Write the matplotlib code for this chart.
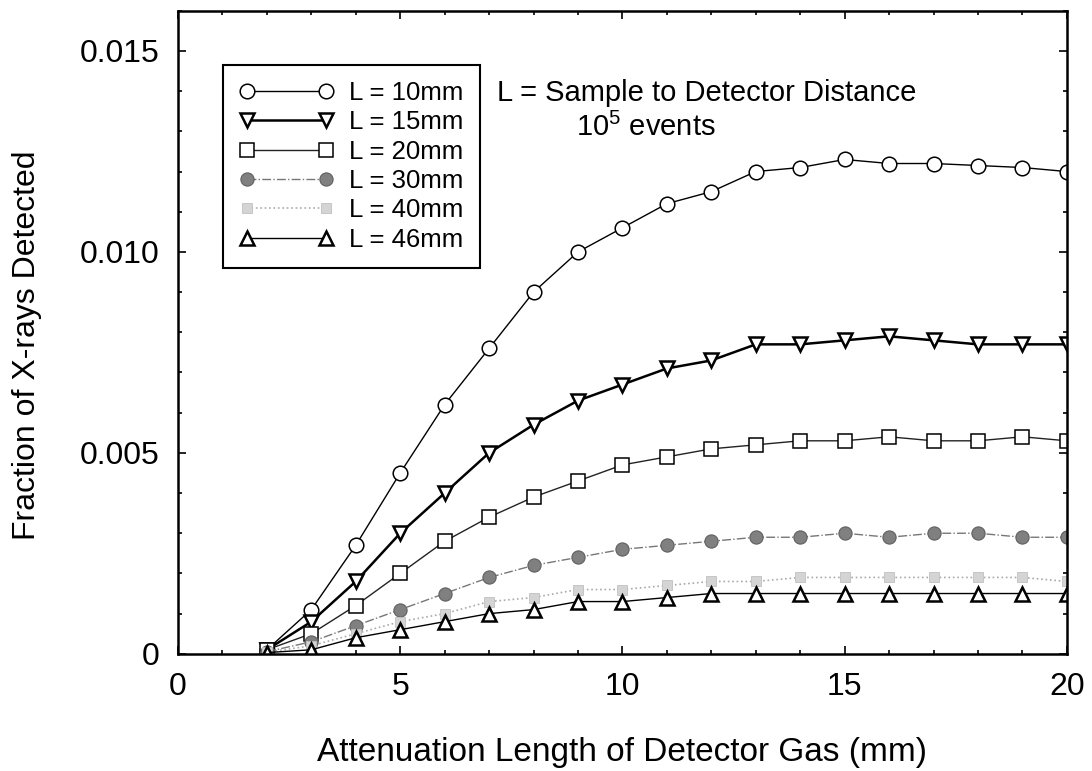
import matplotlib
matplotlib.use("Agg")
import matplotlib.pyplot as plt
from matplotlib.ticker import MultipleLocator, FixedFormatter, FixedLocator

plt.rcParams["font.family"] = ["Liberation Sans", "DejaVu Sans"]

# attenuation length (mm)
x = list(range(2, 21))

# fraction of x-rays detected, one list per sample-detector distance
l10 = [0.0001, 0.0011, 0.0027, 0.0045, 0.0062, 0.0076, 0.0090, 0.0100, 0.0106, 0.0112,
       0.0115, 0.0120, 0.0121, 0.0123, 0.0122, 0.0122, 0.01215, 0.0121, 0.0120]
l15 = [0.0001, 0.0008, 0.0018, 0.0030, 0.0040, 0.0050, 0.0057, 0.0063, 0.0067, 0.0071,
       0.0073, 0.0077, 0.0077, 0.0078, 0.0079, 0.0078, 0.0077, 0.0077, 0.0077]
l20 = [0.0001, 0.0005, 0.0012, 0.0020, 0.0028, 0.0034, 0.0039, 0.0043, 0.0047, 0.0049,
       0.0051, 0.0052, 0.0053, 0.0053, 0.0054, 0.0053, 0.0053, 0.0054, 0.0053]
l30 = [0.00005, 0.0003, 0.0007, 0.0011, 0.0015, 0.0019, 0.0022, 0.0024, 0.0026, 0.0027,
       0.0028, 0.0029, 0.0029, 0.0030, 0.0029, 0.0030, 0.0030, 0.0029, 0.0029]
l40 = [0.00004, 0.0002, 0.0005, 0.0008, 0.0010, 0.0013, 0.0014, 0.0016, 0.0016, 0.0017,
       0.0018, 0.0018, 0.0019, 0.0019, 0.0019, 0.0019, 0.0019, 0.0019, 0.0018]
l46 = [0.00003, 0.0001, 0.0004, 0.0006, 0.0008, 0.0010, 0.0011, 0.0013, 0.0013, 0.0014,
       0.0015, 0.0015, 0.0015, 0.0015, 0.0015, 0.0015, 0.0015, 0.0015, 0.0015]

labels = ["L = 10mm", "L = 15mm", "L = 20mm", "L = 30mm", "L = 40mm", "L = 46mm"]

fig = plt.figure(figsize=(10.92, 7.71), dpi=100)
ax = fig.add_axes([0.163, 0.152, 0.814, 0.834])

ax.plot(x, l10, "-", color="black", lw=1.0, marker="o", ms=10.5, mfc="white", mec="black", mew=1.1, label=labels[0])
ax.plot(x, l15, "-", color="black", lw=1.8, marker="v", ms=10.5, mfc="white", mec="black", mew=1.8, label=labels[1])
ax.plot(x, l20, "-", color="#222222", lw=1.0, marker="s", ms=10.5, mfc="white", mec="black", mew=1.1, label=labels[2])
ax.plot(x, l30, "-.", color="#777777", lw=1.0, marker="o", ms=9.5, mfc="#808080", mec="#606060", mew=0.8, label=labels[3])
ax.plot(x, l40, ":", color="#aaaaaa", lw=1.2, marker="s", ms=7.5, mfc="#d4d4d4", mec="#c0c0c0", mew=0.6, label=labels[4])
ax.plot(x, l46, "-", color="black", lw=1.0, marker="^", ms=10.5, mfc="white", mec="black", mew=1.8, label=labels[5])

ax.set_xlim(0, 20)
ax.set_ylim(0, 0.016)
ax.xaxis.set_major_locator(MultipleLocator(5))
ax.xaxis.set_minor_locator(MultipleLocator(1))
ax.yaxis.set_major_locator(FixedLocator([0, 0.005, 0.010, 0.015]))
ax.yaxis.set_major_formatter(FixedFormatter(["0", "0.005", "0.010", "0.015"]))
ax.yaxis.set_minor_locator(MultipleLocator(0.001))
ax.tick_params(which="both", direction="in", top=True, right=True, labelsize=23, width=1.2)
ax.tick_params(which="major", length=6, pad=13)
ax.tick_params(which="minor", length=3)
for s in ax.spines.values():
    s.set_linewidth(1.8)

ax.set_xlabel("Attenuation Length of Detector Gas (mm)", fontsize=24, labelpad=25)
ax.set_ylabel("Fraction of X-rays Detected", fontsize=23)
ax.yaxis.set_label_coords(-0.153, 0.48)

leg = ax.legend(loc="upper left", bbox_to_anchor=(0.0506, 0.916), borderaxespad=0,
                numpoints=2, handlelength=3.7, fontsize=18.5, labelspacing=0.21,
                fancybox=False, framealpha=1, edgecolor="black", borderpad=0.62,
                handletextpad=0.6)
leg.get_frame().set_linewidth(1.5)

ax.text(0.359, 0.872, "L = Sample to Detector Distance", transform=ax.transAxes, fontsize=21, ha="left", va="center")
ax.text(0.526, 0.818, r"10$^{\mathregular{5}}$ events", transform=ax.transAxes, fontsize=21, ha="center", va="center")

fig.savefig("out.png", dpi=100)
